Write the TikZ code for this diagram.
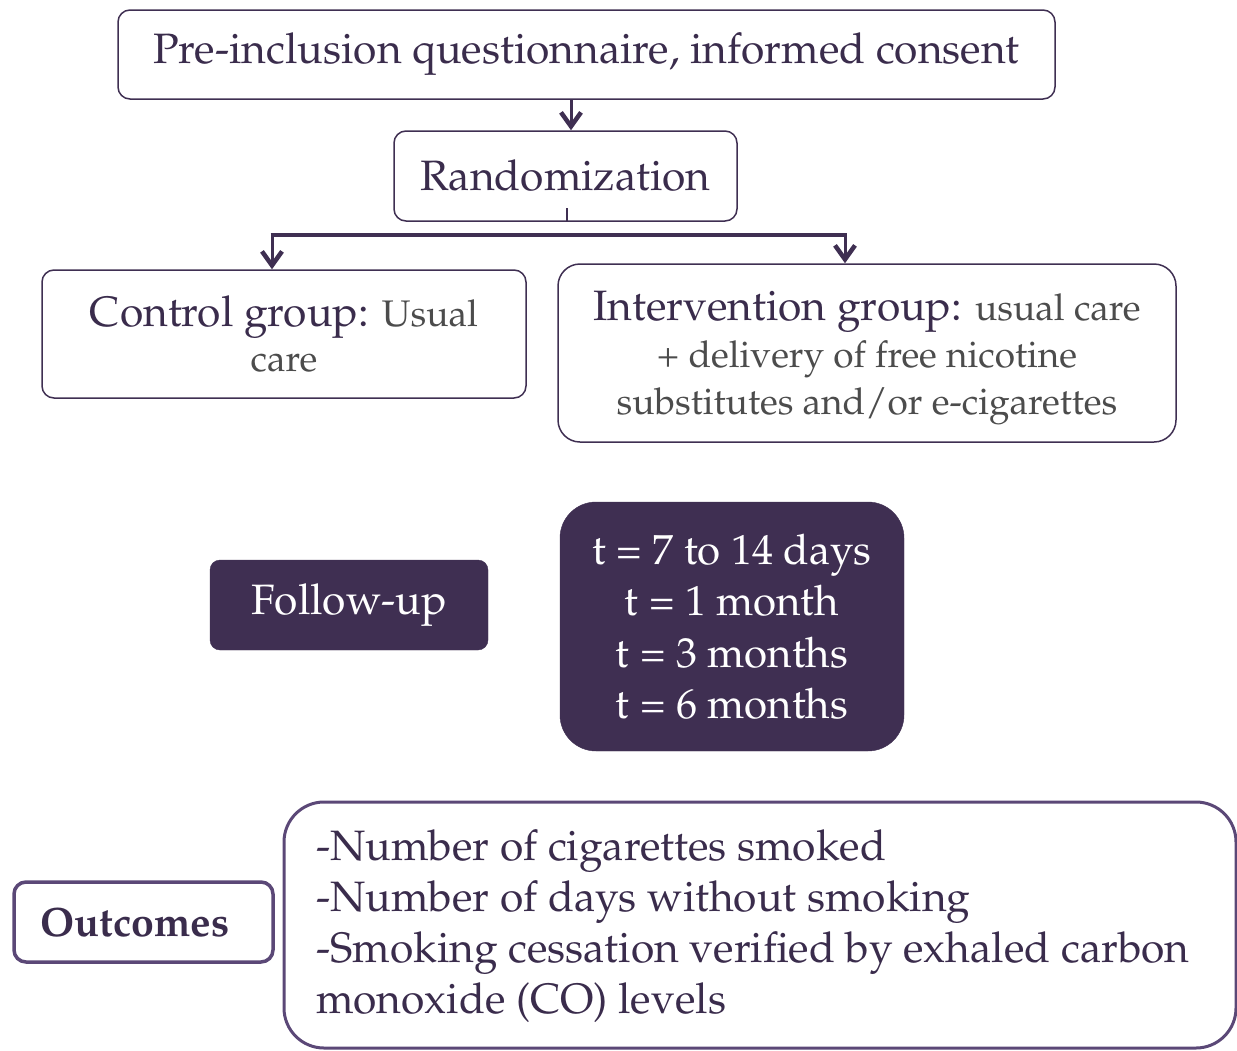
\documentclass[tikz,border=0pt]{standalone}
\usepackage[T1]{fontenc}
\usepackage{mathpazo}
\usetikzlibrary{arrows.meta}
\definecolor{dpurp}{HTML}{3F2F52}
\definecolor{mpurp}{HTML}{5B4877}
\definecolor{txt}{HTML}{3A2C4C}
\definecolor{gtxt}{HTML}{4C4C4C}
\newcommand{\medf}{\fontsize{37}{47}\selectfont}
\begin{document}
\begin{tikzpicture}[x=1pt,y=-1pt,
  obox/.style={draw=dpurp,line width=1.5pt,rounded corners=12pt,align=center,text=txt,inner sep=0pt},
  fbox/.style={fill=dpurp,draw=dpurp,align=center,text=white,inner sep=0pt},
  arr/.style={draw=dpurp,line width=3pt,-{Straight Barb[length=14pt,width=20pt,line width=4.5pt]}}]
\useasboundingbox (0,0) rectangle (1237,1050);
\node[obox,minimum width=937pt,minimum height=89pt,font=\fontsize{42.5}{47}\selectfont] (top) at (586.5,54.5) {Pre-inclusion questionnaire, informed consent};
\node[obox,minimum width=343pt,minimum height=90pt,font=\fontsize{42.5}{47}\selectfont] (rand) at (565.5,176) {Randomization};
\node[obox,minimum width=484pt,minimum height=128pt,font=\fontsize{42.5}{45}\selectfont] (ctrl) at (284,334) {Control group: {\medf\color{gtxt}Usual}\\{\medf\color{gtxt}care}};
\node[obox,minimum width=618pt,minimum height=178pt,rounded corners=22pt,font=\fontsize{42.5}{47}\selectfont] (intv) at (867,353) {};
\node[align=center,text=txt,inner sep=0pt,font=\fontsize{42.5}{47}\selectfont] (intvt) at (867,358) {Intervention group: {\medf\color{gtxt}usual care}\\{\medf\color{gtxt}+ delivery of free nicotine}\\{\medf\color{gtxt}substitutes and/or e-cigarettes}};
\node[fbox,rounded corners=10pt,minimum width=278pt,minimum height=90pt,font=\fontsize{42.5}{47}\selectfont] (fu) at (349,605) {Follow-up};
\node[fbox,rounded corners=36pt,minimum width=344pt,minimum height=249pt,font=\fontsize{42}{51.5}\selectfont] (times) at (732,626.5) {t = 7 to 14 days\\t = 1 month\\t = 3 months\\t = 6 months};
\node[draw=mpurp,line width=3.5pt,rounded corners=12pt,minimum width=259pt,minimum height=80pt,inner sep=0pt] (outc) at (143.5,922) {};
\node[text=txt,inner sep=0pt,font=\fontsize{41}{45}\selectfont\bfseries] (outct) at (135,922) {Outcomes};
\node[draw=mpurp,line width=3pt,rounded corners=40pt,minimum width=952pt,minimum height=246pt,inner sep=0pt] (list) at (760,925) {};
\node[anchor=west,align=left,text=txt,inner sep=0pt,font=\fontsize{42.5}{51}\selectfont] (ltxt) at (316,926) {-Number of cigarettes smoked\\-Number of days without smoking\\-Smoking cessation verified by exhaled carbon\\monoxide (CO) levels};
\draw[arr] ([xshift=-15.5pt]top.south) -- ([xshift=5.5pt]rand.north);
\coordinate (br) at ([xshift=1.5pt,yshift=14pt]rand.south);
\draw[dpurp,line width=2pt] ([xshift=1.5pt]rand.south) -- (br);
\draw[dpurp,line width=4pt] (270.5,235) -- (846.5,235);
\draw[arr] (272,233) -- (ctrl.north -| 272,0);
\draw[arr] (845,233) -- (intv.north -| 845,0);
\end{tikzpicture}
\end{document}
